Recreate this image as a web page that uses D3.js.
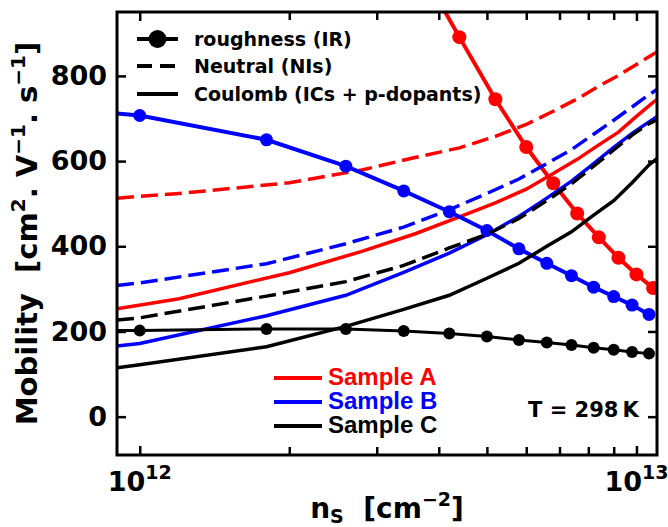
<!DOCTYPE html>
<html>
<head>
<meta charset="utf-8">
<script src="https://cdn.jsdelivr.net/npm/d3@7"></script>
<style>
  body { margin: 0; background: #fff; }
  svg text { font-family: "DejaVu Sans", sans-serif; font-weight: bold; fill: #000; }
</style>
</head>
<body>
<div id="chart"></div>
<script>
const width = 668;
const height = 527;
const margin = {top: 12, right: 11, bottom: 72, left: 117};

// sheet density grids, in units of 1e12 cm^-2 (first / last entries sit on the frame edges)
const nsA  = [0.9, 1.2, 2.0, 2.8, 3.6, 4.4, 5.2, 6.0, 6.8, 7.6, 8.4, 9.2, 10.0, 10.8, 11.0];
const nsBC = [0.9, 1.0, 1.8, 2.6, 3.4, 4.2, 5.0, 5.8, 6.6, 7.4, 8.2, 9.0, 9.8, 10.6, 11.0];

// Neutral impurity (NIs) mobility, dashed
const neutralA = [513, 524, 549, 579, 609, 631, 658, 686, 717, 746, 776, 801, 827, 851, 856];
const neutralB = [308, 314, 359, 406, 445, 486, 524, 558, 594, 627, 663, 696, 727, 756, 768];
const neutralC = [227, 232, 283, 317, 355, 396, 428, 465, 507, 547, 588, 626, 661, 688, 697];

// Coulomb (ICs + p-dopants) mobility, solid
const coulombA = [253, 277, 338, 388, 430, 469, 502, 534, 571, 604, 638, 668, 705, 738, 744];
const coulombB = [166, 172, 237, 285, 339, 384, 427, 470, 513, 553, 594, 632, 665, 692, 704];
const coulombC = [115, 122, 164, 212, 252, 285, 325, 360, 400, 434, 473, 507, 549, 591, 606];

// roughness (IR) mobility, line + markers (first entry is where the line leaves the frame, no marker)
const nsIRA  = [4.12, 4.4, 5.2, 6.0, 6.8, 7.6, 8.4, 9.2, 10.0, 10.8];
const nsIRBC = [0.9, 1.0, 1.8, 2.6, 3.4, 4.2, 5.0, 5.8, 6.6, 7.4, 8.2, 9.0, 9.8, 10.6];
const roughA = [950, 891, 745, 633, 548, 477, 421, 373, 334, 302];
const roughB = [712, 707, 650, 588, 530, 481, 437, 394, 360, 331, 304, 282, 262, 240];
const roughC = [202, 202, 206, 206, 201, 195, 188, 180, 174, 168, 162, 157, 152, 148];

const yTicks = [0, 200, 400, 600, 800];
const xMajor = [1e12, 1e13];
const xMinor = [2e12, 3e12, 4e12, 5e12, 6e12, 7e12, 8e12, 9e12];

const samples = [
  {name: "Sample A", color: "#ff0000", r: 7, irWidth: 4, ns: nsA, neutral: neutralA, coulomb: coulombA, nsIR: nsIRA, rough: roughA},
  {name: "Sample B", color: "#0000ff", r: 6.5, irWidth: 4, ns: nsBC, neutral: neutralB, coulomb: coulombB, nsIR: nsIRBC, rough: roughB},
  {name: "Sample C", color: "#000000", r: 6, irWidth: 3, ns: nsBC, neutral: neutralC, coulomb: coulombC, nsIR: nsIRBC, rough: roughC}
];

const svg = d3.select("#chart").append("svg")
    .attr("width", width)
    .attr("height", height);

const x = d3.scaleLog()
    .domain([0.9e12, 1.1e13])
    .range([margin.left, width - margin.right]);

const y = d3.scaleLinear()
    .domain([-90, 950])
    .range([height - margin.bottom, margin.top]);

svg.append("clipPath").attr("id", "plot-clip")
  .append("rect")
    .attr("x", margin.left)
    .attr("y", margin.top)
    .attr("width", width - margin.left - margin.right)
    .attr("height", height - margin.top - margin.bottom);

const line = d3.line()
    .x(d => x(d.n * 1e12))
    .y(d => y(d.v));

const zip = (ns, vs) => ns.map((n, i) => ({n: n, v: vs[i]}));

// Curves
const plot = svg.append("g").attr("clip-path", "url(#plot-clip)");

samples.forEach(s => {
  const irPts = zip(s.nsIR, s.rough);

  plot.append("path")
      .datum(irPts)
      .attr("fill", "none")
      .attr("stroke", s.color)
      .attr("stroke-width", s.irWidth)
      .attr("d", line);

  plot.append("path")
      .datum(zip(s.ns, s.neutral))
      .attr("fill", "none")
      .attr("stroke", s.color)
      .attr("stroke-width", 3.5)
      .attr("stroke-dasharray", "17,7")
      .attr("d", line);

  plot.append("path")
      .datum(zip(s.ns, s.coulomb))
      .attr("fill", "none")
      .attr("stroke", s.color)
      .attr("stroke-width", 3.5)
      .attr("d", line);

  plot.selectAll(null)
      .data(irPts.slice(1))
      .enter().append("circle")
      .attr("cx", d => x(d.n * 1e12))
      .attr("cy", d => y(d.v))
      .attr("r", s.r)
      .attr("fill", s.color);
});

// Axes (ticks point inward on all four sides)
const tickStyle = g => {
  g.select(".domain").remove();
  g.selectAll(".tick line").attr("stroke", "#000").attr("stroke-width", 2.5);
};

svg.append("g")
    .attr("transform", `translate(0,${height - margin.bottom})`)
    .call(d3.axisBottom(x).tickValues(xMajor).tickSize(-9).tickFormat(""))
    .call(tickStyle);
svg.append("g")
    .attr("transform", `translate(0,${height - margin.bottom})`)
    .call(d3.axisBottom(x).tickValues(xMinor).tickSize(-8).tickFormat(""))
    .call(tickStyle);
svg.append("g")
    .attr("transform", `translate(0,${margin.top})`)
    .call(d3.axisTop(x).tickValues(xMajor).tickSize(-9).tickFormat(""))
    .call(tickStyle);
svg.append("g")
    .attr("transform", `translate(0,${margin.top})`)
    .call(d3.axisTop(x).tickValues(xMinor).tickSize(-8).tickFormat(""))
    .call(tickStyle);

svg.append("g")
    .attr("transform", `translate(${margin.left},0)`)
    .call(d3.axisLeft(y).tickValues(yTicks).tickSize(-9).tickPadding(10))
    .call(tickStyle)
    .call(g => g.selectAll("text")
        .attr("font-size", 27)
        .attr("font-family", "DejaVu Sans")
        .attr("font-weight", "bold")
        .attr("fill", "#000"));
svg.append("g")
    .attr("transform", `translate(${width - margin.right},0)`)
    .call(d3.axisRight(y).tickValues(yTicks).tickSize(-9).tickFormat(""))
    .call(tickStyle);

// x tick labels 10^12, 10^13
xMajor.forEach(v => {
  const t = svg.append("text")
      .attr("x", x(v))
      .attr("y", 491)
      .attr("text-anchor", "middle")
      .attr("font-size", 27);
  t.append("tspan").text("10");
  t.append("tspan").attr("dy", -12).attr("font-size", 19).text(Math.round(Math.log10(v)));
});

// frame
svg.append("rect")
    .attr("x", margin.left)
    .attr("y", margin.top)
    .attr("width", width - margin.left - margin.right)
    .attr("height", height - margin.top - margin.bottom)
    .attr("fill", "none")
    .attr("stroke", "#000")
    .attr("stroke-width", 3);

// axis titles
const xTitle = svg.append("text")
    .attr("x", (margin.left + width - margin.right) / 2)
    .attr("y", 518)
    .attr("text-anchor", "middle")
    .attr("font-size", 28)
    .style("white-space", "pre");
xTitle.append("tspan").text("n");
xTitle.append("tspan").attr("dy", 5).attr("font-size", 19).text("S");
xTitle.append("tspan").attr("dy", -5).text("  [cm");
xTitle.append("tspan").attr("dy", -12).attr("font-size", 19).text("\u22122");
xTitle.append("tspan").attr("dy", 12).text("]");

const yTitle = svg.append("text")
    .attr("transform", `translate(37,${(margin.top + height - margin.bottom) / 2}) rotate(-90)`)
    .attr("text-anchor", "middle")
    .attr("font-size", 29)
    .style("white-space", "pre");
yTitle.append("tspan").text("Mobility  [cm");
yTitle.append("tspan").attr("dy", -12).attr("font-size", 20).text("2");
yTitle.append("tspan").attr("dy", 12).text(". V");
yTitle.append("tspan").attr("dy", -12).attr("font-size", 20).text("\u22121");
yTitle.append("tspan").attr("dy", 12).text(". s");
yTitle.append("tspan").attr("dy", -12).attr("font-size", 20).text("\u22121");
yTitle.append("tspan").attr("dy", 12).text("]");

// scattering-mechanism legend (top left)
const mechLegend = [
  {label: "roughness (IR)", dash: null, marker: true},
  {label: "Neutral (NIs)", dash: "15,8", marker: false},
  {label: "Coulomb (ICs + p-dopants)", dash: null, marker: false}
];
const mechRowY = [39, 66, 94];

mechLegend.forEach((d, i) => {
  const gy = mechRowY[i];
  svg.append("line")
      .attr("x1", 137).attr("x2", 178)
      .attr("y1", gy).attr("y2", gy)
      .attr("stroke", "#000")
      .attr("stroke-width", 4)
      .attr("stroke-dasharray", d.dash);
  if (d.marker) {
    svg.append("circle")
        .attr("cx", 157.5).attr("cy", gy)
        .attr("r", 9)
        .attr("fill", "#000");
  }
  svg.append("text")
      .attr("x", 194)
      .attr("y", gy)
      .attr("dy", "0.36em")
      .attr("font-size", 19)
      .text(d.label);
});

// sample legend (bottom)
const sampleRowY = [378, 402, 426];
samples.forEach((s, i) => {
  svg.append("line")
      .attr("x1", 274).attr("x2", 322)
      .attr("y1", sampleRowY[i]).attr("y2", sampleRowY[i])
      .attr("stroke", s.color)
      .attr("stroke-width", 4);
  svg.append("text")
      .attr("x", 328)
      .attr("y", sampleRowY[i] + 7)
      .attr("font-size", 24)
      .style("font-family", "'Liberation Sans', Arial, sans-serif")
      .style("font-weight", 700)
      .style("fill", s.color)
      .text(s.name);
});

svg.append("text")
    .attr("x", 528)
    .attr("y", 417)
    .attr("font-size", 21)
    .text("T = 298\u2009K");
</script>
</body>
</html>
